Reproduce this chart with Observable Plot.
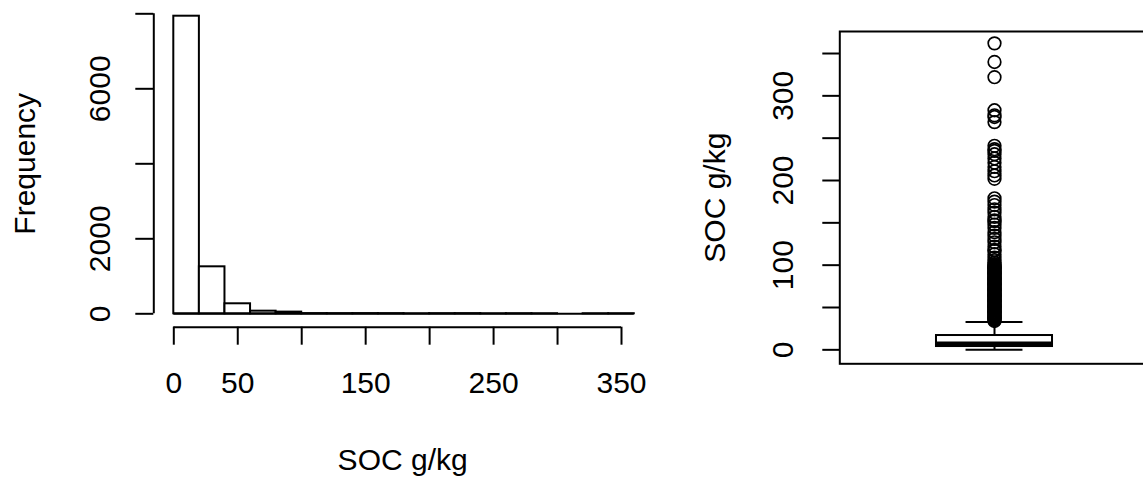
<!DOCTYPE html>
<html>
<head>
<meta charset="utf-8">
<script src="https://cdn.jsdelivr.net/npm/d3@7"></script>
<script src="https://cdn.jsdelivr.net/npm/@observablehq/plot@0.6"></script>
<style>
  html, body { margin: 0; padding: 0; background: white; overflow: hidden; }
  #wrap { position: relative; width: 1143px; height: 479px; overflow: hidden; background: white; }
  #hist { position: absolute; left: 0; top: 0; }
  #box { position: absolute; left: 680px; top: 0; }
  svg { max-width: none !important; background: transparent; }
</style>
</head>
<body>
<div id="wrap"><div id="hist"></div><div id="box"></div></div>
<script>
// ---- Histogram data (SOC g/kg, bin width 20) ----
const binStarts = [0, 20, 40, 60, 80, 100, 120, 140, 160, 180, 200, 220, 240, 260, 280, 300, 320, 340];
const binCounts = [7936, 1253, 267, 70, 45, 6, 5, 6, 5, 1, 4, 5, 1, 3, 1, 0, 1, 2];
const binWidth = 20;
const histXTicks = [0, 50, 100, 150, 200, 250, 300, 350];
const histXLabels = [0, 50, 150, 250, 350];
const histYTicks = [0, 2000, 4000, 6000, 8000];
const histYLabels = [0, 2000, 6000];

// ---- Boxplot data ----
const boxQ1 = 3.9, boxMedian = 6.9, boxQ3 = 16.9, whiskerLo = 0, whiskerHi = 33;
const outliersSparse = [362, 340, 322, 283, 277, 275, 269, 241, 237, 235, 231, 226, 221, 216, 211, 206, 202,
  179, 175, 171, 166, 162, 157, 153, 152, 148, 144, 139, 135, 131, 127, 122, 118, 117, 113, 109, 106, 103];
const outliersDense = [34, 35, 36, 37, 38, 39, 40, 41, 42, 43, 44, 45, 46, 47, 48, 49, 50, 51, 52, 53, 54, 55,
  56, 57, 58, 59, 60, 61, 62, 63, 64, 65, 66, 67, 68, 69, 70, 71, 72, 73, 74, 75, 76, 77, 78, 79, 80, 81, 82,
  83, 84, 85, 86, 87, 88, 89, 90, 91, 92, 93, 94, 95, 96, 97, 98, 99, 100, 101];
const boxYTicks = [0, 50, 100, 150, 200, 250, 300, 350];
const boxYLabels = [0, 100, 200, 300];

const font = "'Liberation Sans', Arial, Helvetica, sans-serif";
const fs = 30;

const bins = binStarts.map((s, i) => ({x0: s, x1: s + binWidth, count: binCounts[i]}));

const hist = Plot.plot({
  width: 680, height: 479,
  marginLeft: 173.3, marginRight: 59, marginTop: 13.3, marginBottom: 165.7,
  style: {fontFamily: font, fontSize: fs + "px", color: "black", background: "transparent"},
  x: {domain: [0, 350], axis: null},
  y: {domain: [0, 8000], axis: null},
  marks: [
    Plot.rectY(bins, {x1: "x0", x2: "x1", y: "count", fill: "white", stroke: "black", strokeWidth: 2}),
    Plot.ruleY([0], {x1: 0, x2: 360, stroke: "black", strokeWidth: 2}),
    Plot.ruleX([0], {y1: 0, y2: 8000, dx: -20, stroke: "black", strokeWidth: 2}),
    Plot.axisY({ticks: histYTicks, tickSize: 18, dx: -20, tickFormat: () => "", label: null, strokeWidth: 2}),
    Plot.text(histYLabels, {y: d => d, text: d => String(d), frameAnchor: "left", dx: -73.3,
      rotate: -90, textAnchor: "middle", lineAnchor: "middle", fontSize: fs}),
    Plot.text(["Frequency"], {text: d => d, frameAnchor: "left", dx: -148.3,
      rotate: -90, textAnchor: "middle", lineAnchor: "middle", fontSize: fs}),
    Plot.ruleY([0], {x1: 0, x2: 350, dy: 13.4, stroke: "black", strokeWidth: 2}),
    Plot.axisX({ticks: histXTicks, tickSize: 18, dy: 13.4, tickFormat: () => "", label: null, strokeWidth: 2}),
    Plot.text(histXLabels, {x: d => d, text: d => String(d), frameAnchor: "bottom", dy: 70,
      textAnchor: "middle", lineAnchor: "middle", fontSize: fs}),
    Plot.text(["SOC g/kg"], {text: d => d, frameAnchor: "bottom", dy: 146.5, dx: 5,
      textAnchor: "middle", lineAnchor: "middle", fontSize: fs})
  ]
});
document.getElementById("hist").appendChild(hist);

const outliers = outliersSparse.concat(outliersDense);
const stats = [{q1: boxQ1, med: boxMedian, q3: boxQ3, lo: whiskerLo, hi: whiskerHi}];
const halfBox = 0.375, halfCap = 0.184;

const box = Plot.plot({
  width: 480, height: 479,
  marginLeft: 159.3, marginRight: 11.3, marginTop: 31, marginBottom: 115.7,
  style: {fontFamily: font, fontSize: fs + "px", color: "black", background: "transparent"},
  x: {domain: [0, 2], axis: null},
  y: {domain: [-16.5, 376], axis: null},
  marks: [
    Plot.ruleX(stats, {x: () => 1, y1: "lo", y2: "q1", stroke: "black", strokeWidth: 2}),
    Plot.ruleX(stats, {x: () => 1, y1: "q3", y2: "hi", stroke: "black", strokeWidth: 2}),
    Plot.ruleY(stats, {y: "lo", x1: () => 1 - halfCap, x2: () => 1 + halfCap, stroke: "black", strokeWidth: 2}),
    Plot.ruleY(stats, {y: "hi", x1: () => 1 - halfCap, x2: () => 1 + halfCap, stroke: "black", strokeWidth: 2}),
    Plot.rect(stats, {x1: () => 1 - halfBox, x2: () => 1 + halfBox, y1: "q1", y2: "q3",
      fill: "white", stroke: "black", strokeWidth: 2}),
    Plot.ruleY(stats, {y: "med", x1: () => 1 - halfBox, x2: () => 1 + halfBox, stroke: "black", strokeWidth: 5}),
    Plot.dot(outliers, {x: () => 1, y: d => d, r: 6.3, stroke: "black", fill: "none", strokeWidth: 1.7}),
    Plot.frame({stroke: "black", strokeWidth: 2}),
    Plot.axisY({ticks: boxYTicks, tickSize: 17, tickFormat: () => "", label: null, strokeWidth: 2}),
    Plot.text(boxYLabels, {y: d => d, text: d => String(d), frameAnchor: "left", dx: -56.3,
      rotate: -90, textAnchor: "middle", lineAnchor: "middle", fontSize: fs}),
    Plot.text(["SOC g/kg"], {text: d => d, frameAnchor: "left", dx: -124.3,
      rotate: -90, textAnchor: "middle", lineAnchor: "middle", fontSize: fs})
  ]
});
document.getElementById("box").appendChild(box);
</script>
</body>
</html>
